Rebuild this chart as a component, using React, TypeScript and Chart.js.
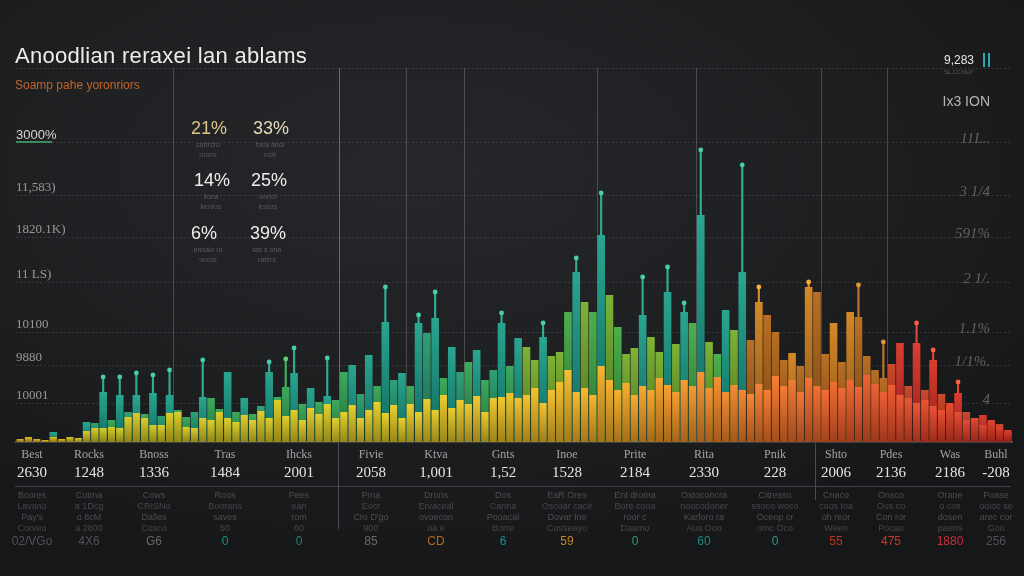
import React, { useEffect, useRef } from "react";
import { Chart, registerables } from "chart.js";

Chart.register(...registerables);

// ---------------- DATA ----------------
const categories: string[] = Array.from({ length: 120 }, (_, i) => `C${i + 1}`);

const frontValues: number[] = [
  30, 50, 30, 20, 50, 30, 50, 40, 110, 140,
  140, 150, 140, 250, 290, 240, 170, 170, 290, 300,
  150, 140, 240, 220, 300, 240, 200, 270, 220, 310,
  240, 420, 260, 320, 220, 340, 280, 380, 240, 300,
  370, 240, 320, 400, 290, 370, 240, 380, 300, 430,
  320, 470, 340, 420, 380, 460, 300, 440, 450, 490,
  440, 470, 540, 390, 520, 600, 720, 500, 540, 470,
  760, 620, 520, 590, 470, 560, 520, 640, 570, 500,
  620, 560, 700, 540, 650, 500, 570, 520, 480, 580,
  520, 660, 560, 620, 500, 640, 560, 520, 600, 540,
  620, 550, 670, 580, 500, 570, 470, 440, 390, 420,
  360, 320, 390, 300, 220, 240, 170, 220, 150, 120,
];

const backValues: number[] = [
  0, 0, 0, 0, 100, 0, 0, 0, 200, 190,
  500, 220, 470, 300, 470, 280, 490, 260, 470, 320,
  250, 300, 450, 440, 330, 700, 300, 440, 280, 360,
  700, 450, 550, 690, 380, 540, 400, 460, 420, 700,
  770, 480, 870, 560, 1200, 620, 690, 560, 1190, 1090,
  1240, 640, 950, 700, 800, 920, 620, 720, 1190, 760,
  1040, 950, 820, 1050, 860, 900, 1300, 1700, 1400, 1300,
  2070, 1470, 1150, 880, 940, 1270, 1050, 900, 1500, 980,
  1300, 1190, 2270, 1000, 880, 1320, 1120, 1700, 1020, 1400,
  1270, 1100, 820, 890, 760, 1550, 1500, 880, 1190, 800,
  1300, 1250, 860, 720, 640, 780, 990, 560, 990, 520,
  820, 480, 370, 490, 300, 240, 270, 200, 180, 100,
];

// [category index, wick top value]
const wickPoints: Array<[number, number]> = [
  [10, 650], [12, 650], [14, 690], [16, 670], [18, 720], [22, 820],
  [30, 800], [32, 830], [33, 940], [37, 840], [44, 1550], [48, 1270],
  [50, 1500], [58, 1290], [63, 1190], [67, 1840], [70, 2490], [75, 1650],
  [78, 1750], [80, 1390], [82, 2920], [87, 2770], [89, 1550], [95, 1600],
  [101, 1570], [104, 1000], [108, 1190], [110, 920], [113, 600],
];

const leftTickValues: number[] = [390, 770, 1100, 1600, 2050, 2470, 3000, 3370, 3740];
const leftTickLabels: string[] = ["10001", "9880", "10100", "11 LS)", "1820.1K)", "11,583)", "3000%", "", ""];
const rightTickLabels: string[] = ["4", "1/1%.", "1.1%", "2 1/.", "591%", "3 1/4", "11L..", "Ix3 ION", ""];

const dividerIndices: number[] = [19, 39, 47, 54, 70, 82, 97, 105];

const kpiValues: string[] = ["21%", "33%", "14%", "25%", "6%", "39%"];
const kpiNotes: string[][] = [
  ["cortrcro", "rooos"], ["toca anol", "ncik"], ["fiona", "kenros"],
  ["onrtol", "leaors"], ["ensalo ro", "wocis"], ["tas s ona", "raters"],
];

const tableNames: string[] = ["Best", "Rocks", "Bnoss", "Tras", "Ihcks", "Fivie", "Ktva", "Gnts", "Inoe", "Prite", "Rita", "Pnik", "Shto", "Pdes", "Was", "Buhl"];
const tableValues: string[] = ["2630", "1248", "1336", "1484", "2001", "2058", "1,001", "1,52", "1528", "2184", "2330", "228", "2006", "2136", "2186", "-208"];
const tableDesc: string[][] = [
  ["Bcores", "Lavano", "Pay's", "Corveo"],
  ["Cutma", "a 1Dcg", "o 8cM", "a 2800"],
  ["Cows", "CRISNo", "Dalles", "Cosco"],
  ["Roos", "Boorans", "saves", "50"],
  ["Pees", "ean", "rom", "60"],
  ["Pma", "Eocr", "Cro D'go", "900"],
  ["Drons", "Ervaceal", "ovoecon", "oa e"],
  ["Dos", "Canna", "Pooacal", "Borre"],
  ["EaR Ores", "Oscoar cace", "Dovar Ine", "Cosseayo"],
  ["Ent droma", "Bore cooa", "roor c", "Daamo"],
  ["Ostoconcra", "noocodoner", "Karforo ra", "Aua Ooo"],
  ["Citresso", "ssoco woco", "Oceop cr", "omc Oco"],
  ["Cnaco", "coos toa", "oh reor", "Ween"],
  ["Onsco", "Oos co", "Con ror", "Pocao"],
  ["Orane", "o cos", "dosen", "paens"],
  ["Poase", "ooioc se", "arec cor", "Goo"],
];
const tableNotes: string[] = ["02/VGo", "4X6", "G6", "0", "0", "85", "CD", "6", "59", "0", "60", "0", "55", "475", "1880", "256"];

// ---------------- STYLE ----------------
const N = categories.length;
const kpiPos: Array<[number, number]> = [[191, 128], [253, 128], [194, 180], [251, 180], [191, 233], [250, 233]];
const kpiColors = ["#dcc38c", "#e8d9b8", "#ededed", "#ededed", "#ededed", "#ededed"];
const tableCenters = [32, 89, 154, 225, 299, 371, 436, 503, 567, 635, 704, 775, 836, 891, 950, 996];
const noteColors = ["#505255", "#505255", "#66686a", "#1f8f7c", "#2c7f72", "#66686a", "#b8681e", "#1f8f8f", "#c8822a", "#2a9a6a", "#1f8a80", "#2a9a8a", "#c0381e", "#c8382a", "#c8303a", "#505255"];

const FRONT_STOPS: Array<[number, number[]]> = [
  [0.0, [206, 158, 22]],
  [0.08, [196, 184, 30]],
  [0.4, [214, 188, 34]],
  [0.55, [226, 172, 36]],
  [0.66, [230, 140, 36]],
  [0.76, [226, 108, 40]],
  [0.86, [220, 78, 40]],
  [1.0, [206, 44, 36]],
];

function mix(stops: Array<[number, number[]]>, t: number): number[] {
  for (let k = 1; k < stops.length; k++) {
    if (t <= stops[k][0]) {
      const [t0, c0] = stops[k - 1];
      const [t1, c1] = stops[k];
      const f = (t - t0) / (t1 - t0);
      return c0.map((c, j) => Math.round(c + (c1[j] - c) * f));
    }
  }
  return stops[stops.length - 1][1];
}

function backRGB(i: number): number[] {
  const v = backValues[i] ?? 0;
  const prev = backValues[i - 1] ?? 0;
  const next = backValues[i + 1] ?? 0;
  const peak = v >= prev && v >= next;
  if (i >= 105) return peak ? [214, 44, 36] : [196, 58, 34];
  if (i >= 88) return peak ? [206, 124, 28] : [176, 98, 24];
  if (i >= 60 && !peak) return i % 3 === 0 ? [60, 166, 70] : [112, 170, 44];
  if (!peak && i % 4 === 1) return [30, 150, 110];
  return peak ? [22, 156, 140] : [44, 160, 84];
}

function vertGrad(ctx: any, value: number, rgb: number[], alpha: number) {
  const [r, g, b] = rgb;
  const solid = `rgba(${r},${g},${b},${alpha})`;
  const chart = ctx.chart;
  const ys = chart.scales && chart.scales.y;
  if (!ys || !chart.chartArea || value == null) return solid;
  const top = ys.getPixelForValue(value);
  const bottom = ys.getPixelForValue(0);
  if (!isFinite(top) || !isFinite(bottom) || bottom - top < 2) return solid;
  const gr = chart.ctx.createLinearGradient(0, top, 0, bottom);
  gr.addColorStop(0, `rgba(${Math.min(255, r + 20)},${Math.min(255, g + 20)},${Math.min(255, b + 12)},${alpha})`);
  gr.addColorStop(1, `rgba(${Math.round(r * 0.72)},${Math.round(g * 0.72)},${Math.round(b * 0.72)},${alpha})`);
  return gr;
}

export default function App() {
  const canvasRef = useRef<HTMLCanvasElement | null>(null);

  useEffect(() => {
    if (!canvasRef.current) return;
    const wickTops: (number | null)[] = categories.map(() => null);
    wickPoints.forEach(([i, v]) => { wickTops[i] = v; });
    const wickRanges = wickTops.map((t, i) => (t == null ? null : [backValues[i], t]));

    const chart = new Chart(canvasRef.current, {
      type: "bar",
      data: {
        labels: categories,
        datasets: [
          {
            type: "line",
            label: "tips",
            data: wickTops as any,
            showLine: false,
            order: 0,
            pointRadius: 2.4,
            pointHoverRadius: 2.4,
            pointBorderWidth: 0,
            pointBackgroundColor: (ctx: any) => {
              const i = ctx.dataIndex ?? 0;
              const [r, g, b] = backRGB(i);
              return `rgb(${Math.min(255, r + 50)},${Math.min(255, g + 50)},${Math.min(255, b + 30)})`;
            },
          } as any,
          {
            label: "front",
            data: frontValues,
            grouped: false,
            order: 1,
            barPercentage: 0.86,
            categoryPercentage: 1,
            backgroundColor: (ctx: any) => {
              const i = ctx.dataIndex;
              if (i == null) return "#d4b520";
              return vertGrad(ctx, frontValues[i], mix(FRONT_STOPS, i / (N - 1)), 1);
            },
          } as any,
          {
            label: "wicks",
            data: wickRanges as any,
            grouped: false,
            order: 2,
            barThickness: 1.5,
            backgroundColor: (ctx: any) => {
              const i = ctx.dataIndex ?? 0;
              const [r, g, b] = backRGB(i);
              return `rgba(${Math.min(255, r + 30)},${Math.min(255, g + 30)},${Math.min(255, b + 20)},0.9)`;
            },
          } as any,
          {
            label: "back",
            data: backValues,
            grouped: false,
            order: 3,
            barPercentage: 0.92,
            categoryPercentage: 1,
            backgroundColor: (ctx: any) => {
              const i = ctx.dataIndex;
              if (i == null) return "#1a9a8a";
              return vertGrad(ctx, backValues[i], backRGB(i), 0.93);
            },
          } as any,
        ],
      },
      options: {
        responsive: false,
        animation: false,
        events: [],
        layout: { padding: { left: 16, right: 12, top: 68, bottom: 134 } },
        plugins: {
          legend: { display: false },
          tooltip: { enabled: false },
        },
        scales: {
          x: {
            type: "category",
            offset: true,
            grid: {
              display: true,
              offset: true,
              drawTicks: false,
              lineWidth: 1,
              color: (ctx: any) =>
                dividerIndices.includes(ctx.index)
                  ? ctx.index === 39
                    ? "rgba(200,205,210,0.42)"
                    : "rgba(190,195,200,0.26)"
                  : "rgba(0,0,0,0)",
            },
            ticks: { display: false },
            border: { display: true, color: "#606265", width: 1.5 },
          },
          y: {
            type: "linear",
            position: "left",
            min: 0,
            max: 3740,
            afterBuildTicks: (s: any) => {
              s.ticks = leftTickValues.map((v) => ({ value: v }));
            },
            afterFit: (s: any) => { s.width = 0; },
            grid: {
              drawTicks: false,
              lineWidth: 1,
              color: (ctx: any) =>
                ctx.tick && ctx.tick.value === 3370 ? "rgba(0,0,0,0)" : "rgba(200,205,210,0.14)",
            },
            border: { display: false, dash: [2, 2] },
            ticks: {
              autoSkip: false,
              mirror: true,
              padding: 0,
              labelOffset: -7,
              callback: (v: any) => {
                const k = leftTickValues.indexOf(Number(v));
                return k >= 0 ? leftTickLabels[k] : "";
              },
              color: (ctx: any) => (ctx.tick && ctx.tick.value === 3000 ? "#d6d6d6" : "#979899"),
              font: (ctx: any) =>
                ctx.tick && ctx.tick.value === 3000
                  ? { family: "Liberation Sans", size: 13 }
                  : { family: "Liberation Serif", size: 13 },
            },
          },
          y2: {
            type: "linear",
            position: "right",
            min: 0,
            max: 3740,
            afterBuildTicks: (s: any) => {
              s.ticks = leftTickValues.map((v) => ({ value: v }));
            },
            afterFit: (s: any) => { s.width = 0; },
            grid: { display: false, drawTicks: false },
            border: { display: false },
            ticks: {
              autoSkip: false,
              mirror: true,
              padding: -22,
              labelOffset: -3,
              callback: (v: any) => {
                const k = leftTickValues.indexOf(Number(v));
                return k >= 0 ? rightTickLabels[k] : "";
              },
              color: (ctx: any) => (ctx.tick && ctx.tick.value === 3370 ? "#b4b5b6" : "#5e6062"),
              font: (ctx: any) =>
                ctx.tick && ctx.tick.value === 3370
                  ? { family: "Liberation Sans", size: 14 }
                  : { family: "Liberation Serif", size: 15, style: "italic" },
            },
          },
        },
      } as any,
    });
    return () => chart.destroy();
  }, []);

  const abs = (style: React.CSSProperties): React.CSSProperties => ({ position: "absolute", whiteSpace: "nowrap", ...style });

  return (
    <div
      style={{
        position: "fixed",
        left: 0,
        top: 0,
        width: 1024,
        height: 576,
        overflow: "hidden",
        background:
          "radial-gradient(ellipse 75% 70% at 40% 30%, #26272a 0%, #1e1f21 55%, #161718 100%)",
        fontFamily: "Liberation Sans, Arial, sans-serif",
      }}
    >
      <canvas ref={canvasRef} width={1024} height={576} style={{ position: "absolute", left: 0, top: 0 }} />

      {/* title */}
      <div style={abs({ left: 15, top: 44, fontSize: 22, color: "#ececec", letterSpacing: 0.3, lineHeight: "24px" })}>
        Anoodlian reraxei lan ablams
      </div>
      <div style={abs({ left: 15, top: 78, fontSize: 12, color: "#c0642a", lineHeight: "14px" })}>
        Soamp pahe yoronriors
      </div>

      {/* green accent under top left tick */}
      <div style={abs({ left: 16, top: 141, width: 36, height: 2, background: "#3a8a5c" })} />

      {/* KPI block */}
      {kpiValues.map((v, k) => (
        <React.Fragment key={k}>
          <div style={abs({ left: kpiPos[k][0], top: kpiPos[k][1] - 10, fontSize: 18, lineHeight: "20px", color: kpiColors[k] })}>{v}</div>
          <div style={abs({ left: kpiPos[k][0] - 8, width: 50, textAlign: "center", top: kpiPos[k][1] + 12, fontSize: 7, lineHeight: "9px", color: "#5a5c5f" })}>{kpiNotes[k][0]}</div>
          <div style={abs({ left: kpiPos[k][0] - 8, width: 50, textAlign: "center", top: kpiPos[k][1] + 22, fontSize: 7, lineHeight: "9px", color: "#55575a" })}>{kpiNotes[k][1]}</div>
        </React.Fragment>
      ))}

      {/* top right figure */}
      <div style={abs({ left: 944, top: 53, fontSize: 12, lineHeight: "14px", color: "#e6e6e6" })}>9,283</div>
      <div style={abs({ left: 983, top: 53, width: 2, height: 14, background: "#2aa9a9" })} />
      <div style={abs({ left: 988, top: 53, width: 2, height: 14, background: "#2aa9a9" })} />
      <div style={abs({ left: 944, top: 69, fontSize: 6, lineHeight: "7px", color: "#5b5c5e" })}>SL CCNLP</div>

      {/* table lines */}
      <div style={abs({ left: 15, top: 486, width: 996, height: 1, background: "#3f4144" })} />
      <div style={abs({ left: 338, top: 443, width: 1, height: 86, background: "#4a4c4f" })} />
      <div style={abs({ left: 815, top: 443, width: 1, height: 57, background: "#4a4c4f" })} />

      {/* table */}
      {tableNames.map((name, k) => {
        const cx = tableCenters[k];
        return (
          <React.Fragment key={k}>
            <div style={abs({ left: cx - 40, width: 80, textAlign: "center", top: 447, fontSize: 12, lineHeight: "14px", color: "#a2a4a6", fontFamily: "Liberation Serif, serif" })}>{name}</div>
            <div style={abs({ left: cx - 40, width: 80, textAlign: "center", top: 464, fontSize: 15, lineHeight: "17px", color: "#e4e4e4", fontFamily: "Liberation Serif, serif" })}>{tableValues[k]}</div>
            {tableDesc[k].map((d, j) => (
              <div key={j} style={abs({ left: cx - 40, width: 80, textAlign: "center", top: 490 + j * 11, fontSize: 9, lineHeight: "10px", color: j % 2 ? "#45474a" : "#4c4e51" })}>{d}</div>
            ))}
            <div style={abs({ left: cx - 40, width: 80, textAlign: "center", top: 535, fontSize: 12, lineHeight: "13px", color: noteColors[k] })}>{tableNotes[k]}</div>
          </React.Fragment>
        );
      })}
    </div>
  );
}
